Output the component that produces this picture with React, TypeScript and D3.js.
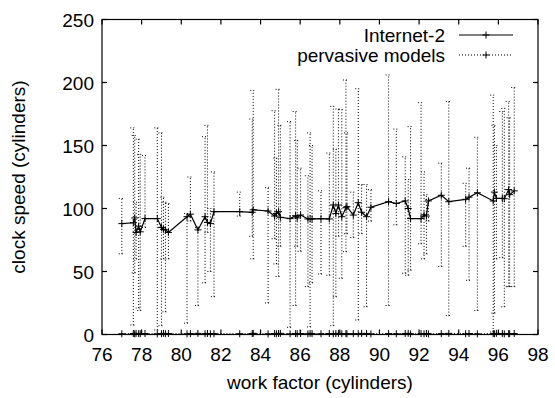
import React from "react";
import * as d3 from "d3";

const xs = [77.0, 77.58, 77.65, 77.72, 77.85, 77.93, 78.17, 78.79, 79.0, 79.1, 79.2, 79.35, 80.29, 80.46, 80.84, 81.2, 81.32, 81.47, 81.65, 82.95, 83.58, 83.63, 84.38, 84.71, 84.8, 84.91, 85.0, 85.49, 85.77, 85.85, 86.02, 86.39, 86.5, 86.6, 87.05, 87.47, 87.67, 87.8, 87.93, 88.1, 88.31, 88.36, 88.68, 88.93, 89.1, 89.35, 89.57, 90.46, 90.85, 91.3, 91.45, 91.57, 92.1, 92.25, 92.37, 92.47, 93.12, 93.5, 94.35, 94.52, 94.94, 95.74, 95.8, 95.9, 96.2, 96.3, 96.52, 96.57, 96.8];
const internet2 = [88, 88.7, 92.5, 81, 86, 81.5, 92, 92, 85, 83.5, 83, 81, 93.5, 95.5, 83, 93.5, 89, 88, 97.5, 97.5, 97, 99, 98, 94, 96, 97.5, 93, 92, 94.3, 92.5, 94.8, 91.7, 91.7, 91.7, 92, 91.7, 102.8, 96, 102.8, 93.5, 100.6, 101.5, 94.8, 104.6, 97, 93.5, 101, 105.4, 104, 106, 100, 92, 92, 95, 94, 106, 110.5, 105.4, 107.3, 109, 112.5, 106, 113, 108, 108, 107.8, 115, 111, 114];
const errLow = [64, 7.5, 49, 60, 21, 19, 85, 3.5, 7, 60, 18, 60, 9, 90, 23, 41, 81, 50, 30, 94, 78, 60, 25, 76, 56, 46, 70, 5.7, 23, 70, 66, 38, 6, 41, 48, 47, 7, 30, 78, 44.6, 65.7, 80, 77, 11.5, 80, 22, 90, 23, 87, 48.6, 47, 51, 72, 60, 64, 90, 54, 15, 70, 43, 19, 2, 17, 60, 61, 22, 38, 38, 38];
const errHigh = [108, 164, 158, 105, 155, 143, 142, 164, 160, 109, 105, 104, 96, 125, 85, 157, 166, 100, 129, 113, 171, 193.5, 116.5, 177.6, 140, 194.6, 166, 169, 177, 154, 132, 126, 160, 150, 114, 144, 181, 147, 179, 178.5, 202, 160, 113, 195, 119, 119, 115, 206, 163, 141, 123, 165, 184, 129, 111, 107, 136, 185, 120, 132, 156.5, 190, 166, 150, 177, 179.5, 185, 172, 196];
const pervasive = [0.6, 0.8, 0.5, 0.9, 0.7, 0.6, 0.8, 0.5, 0.7, 0.9, 0.6, 0.8, 0.5, 0.7, 0.9, 0.6, 0.8, 0.5, 0.7, 0.6, 0.8, 0.9, 0.5, 0.7, 0.6, 0.8, 0.9, 0.5, 0.7, 0.6, 0.8, 0.5, 0.9, 0.7, 0.6, 0.8, 0.5, 0.7, 0.9, 0.6, 0.8, 0.5, 0.7, 0.6, 0.9, 0.8, 0.5, 0.7, 0.6, 0.8, 0.9, 0.5, 0.7, 0.6, 0.8, 0.5, 0.7, 0.9, 0.6, 0.8, 0.5, 0.7, 0.6, 0.9, 0.8, 0.5, 0.7, 0.6, 0.8];
const xTicks = [76, 78, 80, 82, 84, 86, 88, 90, 92, 94, 96, 98];
const yTicks = [0, 50, 100, 150, 200, 250];
const seriesNames = ["Internet-2", "pervasive models"];

const W = 555, H = 398;
const M = { left: 102, right: 17, top: 19.5, bottom: 63.5 };
const FONT = "'Liberation Sans', Arial, Helvetica, sans-serif";

function Plus({ x, y, s = 3.5, color = "#000" }: { x: number; y: number; s?: number; color?: string }) {
  return (
    <g stroke={color} strokeWidth={1}>
      <line x1={x - s} x2={x + s} y1={y} y2={y} />
      <line x1={x} x2={x} y1={y - s} y2={y + s} />
    </g>
  );
}

export default function App() {
  const x = d3.scaleLinear().domain([76, 98]).range([M.left, W - M.right]);
  const y = d3.scaleLinear().domain([0, 250]).range([H - M.bottom, M.top]);
  const line = d3.line<number>().x((_, i) => x(xs[i])).y((d) => y(d));
  const pts = xs.map((v, i) => ({ x: v, y: internet2[i], lo: errLow[i], hi: errHigh[i], p: pervasive[i] }));
  const x0 = M.left, x1 = W - M.right, y0 = H - M.bottom, y1 = M.top;
  const tk = 5;
  return (
    <svg width={W} height={H} style={{ position: "absolute", left: 0, top: 0 }} fontFamily={FONT}>
      <rect width={W} height={H} fill="#fff" />
      {/* error bars */}
      <g stroke="#000" strokeWidth={1} strokeDasharray="1,2" fill="none">
        {pts.map((d, i) => (
          <g key={i}>
            <line x1={x(d.x)} x2={x(d.x)} y1={y(d.lo)} y2={y(d.hi)} />
            <line x1={x(d.x) - 3} x2={x(d.x) + 3} y1={y(d.lo)} y2={y(d.lo)} />
            <line x1={x(d.x) - 3} x2={x(d.x) + 3} y1={y(d.hi)} y2={y(d.hi)} />
          </g>
        ))}
      </g>
      {/* pervasive models line */}
      <path d={line(pervasive) || ""} stroke="#000" strokeWidth={1} strokeDasharray="1,2" fill="none" />
      {pts.map((d, i) => <Plus key={"p" + i} x={x(d.x)} y={y(d.p)} />)}
      {/* internet-2 */}
      <path d={line(internet2) || ""} stroke="#000" strokeWidth={1.2} fill="none" />
      {pts.map((d, i) => <Plus key={"i" + i} x={x(d.x)} y={y(d.y)} />)}
      {/* frame and ticks */}
      <g stroke="#000" strokeWidth={1.2}>
        {xTicks.map((t) => (
          <g key={"xt" + t}>
            <line x1={x(t)} x2={x(t)} y1={y0} y2={y0 - tk} />
            <line x1={x(t)} x2={x(t)} y1={y1} y2={y1 + tk} />
          </g>
        ))}
        {yTicks.map((t) => (
          <g key={"yt" + t}>
            <line x1={x0} x2={x0 + tk} y1={y(t)} y2={y(t)} />
            <line x1={x1} x2={x1 - tk} y1={y(t)} y2={y(t)} />
          </g>
        ))}
        <rect x={x0} y={y1} width={x1 - x0} height={y0 - y1} fill="none" />
      </g>
      <g fontSize={19} fill="#000">
        {xTicks.map((t) => (
          <text key={"xl" + t} x={x(t)} y={y0 + 26} textAnchor="middle">{t}</text>
        ))}
        {yTicks.map((t) => (
          <text key={"yl" + t} x={x0 - 8} y={y(t) + 7} textAnchor="end">{t}</text>
        ))}
        <text x={(x0 + x1) / 2} y={389} textAnchor="middle">work factor (cylinders)</text>
        <text transform={`translate(25,${(y0 + y1) / 2}) rotate(-90)`} textAnchor="middle">clock speed (cylinders)</text>
        <text x={445} y={42} textAnchor="end">{seriesNames[0]}</text>
        <text x={445} y={62} textAnchor="end">{seriesNames[1]}</text>
      </g>
      <line x1={459} x2={513} y1={35} y2={35} stroke="#000" strokeWidth={1.2} />
      <Plus x={486} y={35} />
      <line x1={459} x2={513} y1={55} y2={55} stroke="#000" strokeWidth={1} strokeDasharray="1,2" />
      <Plus x={486} y={55} />
    </svg>
  );
}
